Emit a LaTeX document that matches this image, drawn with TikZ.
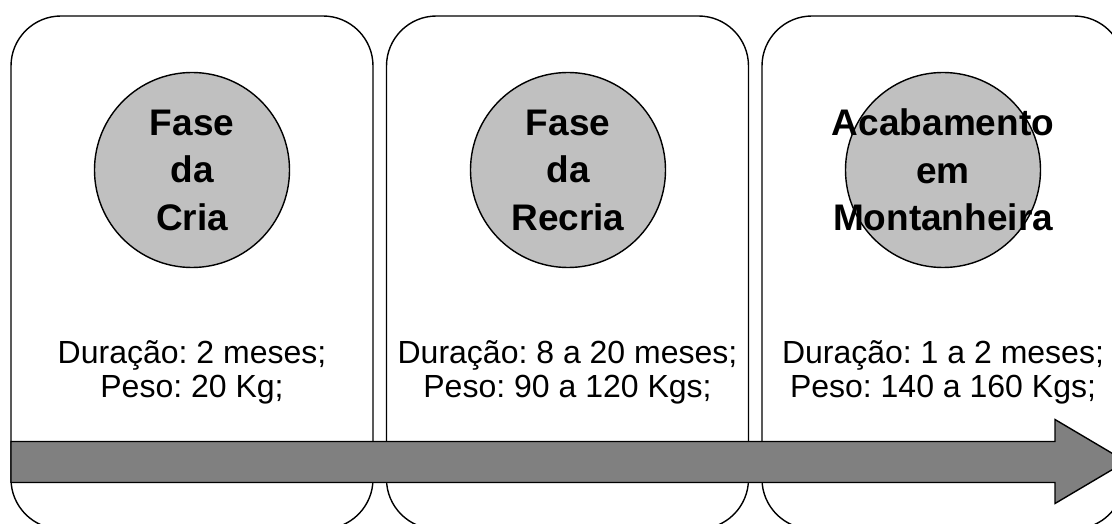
\documentclass[tikz,border=0pt]{standalone}
\usepackage{fontspec}
\setmainfont{Liberation Sans}
\definecolor{discgray}{RGB}{192,192,192}
\definecolor{arrowgray}{RGB}{128,128,128}
\frenchspacing

\begin{document}
\begin{tikzpicture}[x=1pt, y=-1pt,
    phase/.style={draw, line width=1.4pt, rounded corners=50pt,
      minimum width=362pt, minimum height=513pt, inner sep=0pt},
    disc/.style={circle, draw, line width=1.4pt, fill=discgray,
      minimum size=195pt, inner sep=0pt},
    title/.style={align=center, font=\fontsize{37}{47.5}\selectfont\bfseries},
    info/.style={align=center, font=\fontsize{32}{34.5}\selectfont}]
    \useasboundingbox (0,0) rectangle (1112,524);
    \clip (0,0) rectangle (1112,524);

    \node [phase] (cria) at (192,272.5) {};
    \node [phase] (recria) at (567.5,272.5) {};
    \node [phase] (acab) at (943,272.5) {};

    \draw [line width=1.4pt, fill=arrowgray]
    (11,441.5) -- (1055,441.5) -- (1055,419.5) -- (1126,461.5)
    -- (1055,503.5) -- (1055,482.5) -- (11,482.5) -- cycle;

    \node [disc] (discCria) at (192,170) {};
    \node [disc] (discRecria) at (568,170) {};
    \node [disc] (discAcab) at (943,170) {};

    \node [title] (titleCria) at (discCria) {Fase\\da\\Cria};
    \node [title] (titleRecria) at (discRecria) {Fase\\da\\Recria};
    \node [title] (titleAcab) at (discAcab) {Acabamento\\em\\Montanheira};

    \node [info] (infoCria) at (192,372.5) {Duração: 2 meses;\\Peso: 20 Kg;};
    \node [info] (infoRecria) at (567.5,372.5) {Duração: 8 a 20 meses;\\Peso: 90 a 120 Kgs;};
    \node [info] (infoAcab) at (943,372.5) {Duração: 1 a 2 meses;\\Peso: 140 a 160 Kgs;};
\end{tikzpicture}
\end{document}
